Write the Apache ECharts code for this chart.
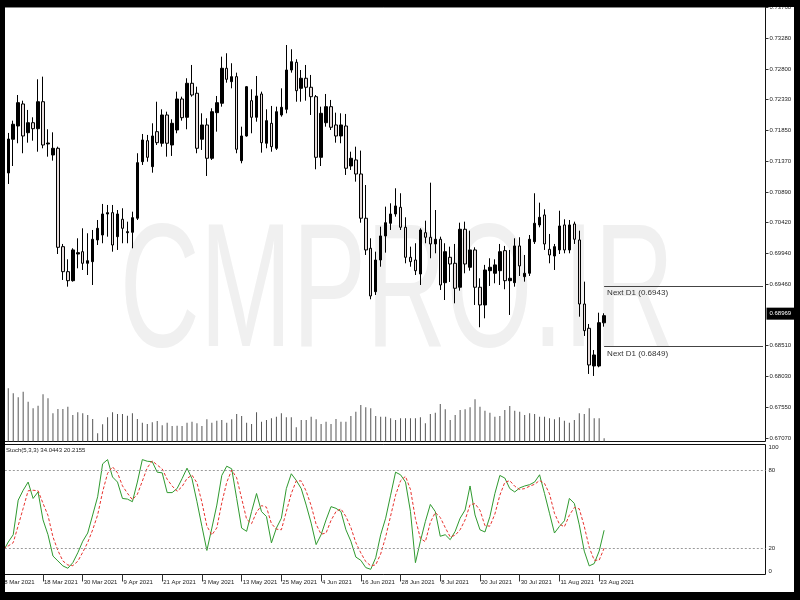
<!DOCTYPE html>
<html><head><meta charset="utf-8">
<script src="https://cdn.jsdelivr.net/npm/echarts@6/dist/echarts.min.js"></script>
<style>html,body{margin:0;padding:0;background:#fff}#c{width:800px;height:600px}</style>
</head><body><div id="c"></div>
<script>
// NZDUSD daily bars, 9 Mar 2021 .. 24 Aug 2021 (8 Mar hidden under frame)
const opens = [0.71184,0.71707,0.71913,0.72255,0.71809,0.71964,0.71871,0.72290,0.71634,0.71463,
0.71567,0.70040,0.69652,0.69512,0.69926,0.69962,0.69782,0.69807,0.70144,0.70221,
0.70547,0.70568,0.70195,0.70465,0.70257,0.70263,0.70481,0.71359,0.71685,0.71282,
0.71825,0.71645,0.72084,0.71618,0.71851,0.72332,0.72048,0.72576,0.72421,0.71707,
0.71929,0.71412,0.72120,0.72266,0.72809,0.72601,0.72679,0.71375,0.71758,0.72306,
0.72048,0.72410,0.71645,0.71955,0.71567,0.72084,0.72172,0.72782,0.72902,0.72498,
0.72654,0.72514,0.72368,0.71427,0.71964,0.72213,0.71929,0.71758,0.71913,0.71292,
0.71386,0.71168,0.70481,0.70015,0.69341,0.69833,0.70206,0.70403,0.70547,0.70651,
0.70341,0.69875,0.69833,0.69616,0.70257,0.70186,0.70082,0.70155,0.69481,0.69875,
0.69782,0.69410,0.70310,0.69720,0.69989,0.69410,0.69135,0.69667,0.69627,0.69667,
0.69978,0.69512,0.69481,0.70051,0.69574,0.69627,0.70117,0.70377,0.70532,0.69999,
0.69895,0.69989,0.70377,0.69989,0.70392,0.70144,0.69150,0.68773,0.68188,0.68188,
0.68858];
const closes = [0.71711,0.71940,0.72275,0.71758,0.71964,0.71871,0.72290,0.71618,0.71649,0.71567,
0.70030,0.69652,0.69512,0.69989,0.69947,0.69782,0.69822,0.70155,0.70325,0.70547,
0.70568,0.70066,0.70547,0.70325,0.70273,0.70490,0.71344,0.71696,0.71427,0.71758,
0.71654,0.72084,0.71645,0.71955,0.72332,0.72042,0.72576,0.72394,0.71567,0.71929,
0.71412,0.72135,0.72275,0.72809,0.72638,0.72679,0.71552,0.71758,0.72523,0.72048,
0.72379,0.71654,0.71996,0.71592,0.72135,0.72203,0.72782,0.72911,0.72461,0.72654,
0.72514,0.72368,0.71427,0.72110,0.72213,0.71893,0.71758,0.71929,0.71257,0.71412,
0.71168,0.70481,0.69989,0.69275,0.69833,0.70206,0.70412,0.70547,0.70672,0.70341,
0.69875,0.69807,0.69667,0.70299,0.70186,0.70082,0.70155,0.69445,0.69962,0.69771,
0.69394,0.70310,0.69771,0.69989,0.69410,0.69135,0.69678,0.69720,0.69757,0.69962,
0.69512,0.69549,0.70051,0.69741,0.69627,0.70155,0.70403,0.70496,0.70082,0.69911,
0.70040,0.70361,0.69989,0.70377,0.70155,0.69150,0.68736,0.68204,0.68359,0.68860,
0.68969];
const highs = [0.71805,0.71996,0.72394,0.72306,0.72162,0.72048,0.72638,0.72679,0.71862,0.71815,
0.71592,0.70082,0.69844,0.70015,0.70170,0.70325,0.70248,0.70299,0.70454,0.70703,
0.70687,0.70687,0.70609,0.70636,0.70428,0.70583,0.71490,0.71789,0.71774,0.71955,
0.72290,0.72172,0.72135,0.72017,0.72446,0.72368,0.72654,0.72860,0.72523,0.72110,
0.72033,0.72188,0.72379,0.72989,0.73042,0.72887,0.72741,0.71902,0.72534,0.72483,
0.72689,0.72446,0.72172,0.72224,0.72213,0.72498,0.73170,0.73104,0.72949,0.72782,
0.72860,0.72705,0.72394,0.72213,0.72410,0.72317,0.72120,0.72110,0.72100,0.71514,
0.71592,0.71531,0.70997,0.70170,0.69962,0.70350,0.70661,0.70713,0.70946,0.70869,
0.70496,0.70040,0.70093,0.70325,0.70443,0.71033,0.70609,0.70195,0.70093,0.70040,
0.70082,0.70412,0.70428,0.70288,0.70030,0.69549,0.69757,0.69860,0.69844,0.70082,
0.70051,0.69989,0.70170,0.70186,0.69911,0.70221,0.70869,0.70723,0.70620,0.70237,
0.70082,0.70598,0.70465,0.70454,0.70428,0.70288,0.69497,0.68840,0.68436,0.69015,
0.69006];
const lows = [0.71013,0.71292,0.71645,0.71490,0.71654,0.71685,0.71514,0.71567,0.71437,0.71375,
0.69926,0.69523,0.69419,0.69497,0.69704,0.69678,0.69600,0.69445,0.70066,0.70093,
0.70195,0.69962,0.69989,0.70093,0.70093,0.70015,0.70454,0.71308,0.71359,0.71188,
0.71618,0.71592,0.71437,0.71448,0.71800,0.71996,0.71862,0.72368,0.71490,0.71541,
0.71137,0.71386,0.71825,0.72213,0.72585,0.72498,0.71490,0.71334,0.71747,0.71800,
0.71980,0.71499,0.71567,0.71514,0.71541,0.72058,0.72110,0.72741,0.72290,0.72290,
0.72306,0.72084,0.71241,0.71292,0.71902,0.71851,0.71654,0.71645,0.71153,0.71230,
0.71049,0.70412,0.69911,0.69223,0.69290,0.69729,0.69947,0.70299,0.70505,0.70299,
0.69782,0.69729,0.69600,0.69445,0.70093,0.69860,0.69937,0.69368,0.69212,0.69492,
0.69161,0.69357,0.69627,0.69667,0.69135,0.68789,0.68928,0.69430,0.69472,0.69445,
0.69379,0.68980,0.69419,0.69585,0.69497,0.69585,0.70082,0.70341,0.69989,0.69782,
0.69678,0.69926,0.69937,0.69937,0.70082,0.68953,0.68654,0.68064,0.68033,0.68168,
0.68798];
const volumes = [79800,72300,66300,74700,59700,49800,53700,70800,64800,42300,
48750,48750,52200,39750,43800,42300,39750,33750,12300,25800,
36300,43800,41250,41250,38700,42300,33750,28200,26250,28800,
30750,24300,28200,23250,23700,23250,28200,29700,27300,23250,
33300,28200,31200,32250,28200,33300,41250,38250,28200,26250,
43800,29700,32250,34800,37200,42300,36300,36300,21300,32250,
32250,37200,33300,26250,29700,26250,33750,29700,29700,38250,
44700,54750,51300,49800,38250,37200,37200,34800,32250,34800,
34800,34800,34800,36300,27300,41250,43200,56250,48300,32250,
39750,47250,48300,51300,63300,52200,46200,43200,37200,38250,
47250,53250,46200,44700,39750,42300,41250,37200,37200,34800,
33300,36300,31200,28200,32250,42300,41250,49800,34800,34800,
4800];
// Stochastic (5,3,3), from 8 Mar 2021
const stochK = [18,25,30.6,57.2,64.8,71.1,58.5,63.5,42,30.6,
14.2,10.4,6.6,4.8,9.1,16.7,25.6,31.9,45.8,59.8,
85.1,88.4,75,71.1,58.5,58,56,71.1,88.4,87.1,
86.8,78.7,78.2,63,63,66.1,73.7,81.8,73.7,56,
37,18.5,35.7,53.4,76.2,83.3,81.3,58.5,35.7,33.2,
48.4,62.3,48.4,44.6,24.3,35.7,43.3,66.1,77.5,72.4,
66.1,53.4,39.5,23,30.6,42,52.2,50.9,48.4,34.4,
25.6,13.4,10.9,5.3,4,12.9,30.6,43.3,61,78.7,
76.7,71.1,48.4,9.1,25.6,40.8,53.9,48.4,29.4,30.6,
26.8,33.2,43.3,49.6,68.1,45.8,34.4,32.7,44.6,62.3,
76.2,74.2,66.1,63.5,66.6,68.1,69.1,71.1,76.7,62.3,
47.1,31.9,37,41.3,58.5,54.7,38.2,18,6.6,8.4,
18,34.0443];
const stochD = [20,22,24.5,37.6,50.9,64.4,64.8,64.4,54.7,45.4,
28.9,18.4,10.4,7.3,6.8,10.2,17.1,24.7,34.4,45.8,
63.6,77.8,82.8,78.2,68.2,62.5,57.5,61.7,71.8,82.2,
87.4,84.2,81.2,73.3,68.1,64,67.6,73.9,76.4,70.5,
55.6,37.2,30.4,35.9,55.1,71,80.3,74.4,58.5,42.5,
39.1,48,53,51.8,39.1,34.9,34.4,48.4,62.3,72,
72,64,53,38.6,31,31.9,41.6,48.4,50.5,44.6,
36.1,24.5,16.6,9.9,6.7,7.4,15.8,28.9,45,61,
72.1,75.5,65.4,42.9,27.7,25.2,40.1,47.7,43.9,36.1,
28.9,30.2,34.4,42,53.7,54.5,49.4,37.6,37.2,46.5,
61,70.9,72.2,67.9,65.4,66.1,67.9,69.4,72.3,70,
62,47.1,38.7,36.7,45.6,51.5,50.5,37,20.9,11,
11,20.2155];
const priceTicks = [0.67070,0.67550,0.68030,0.68510,0.69460,0.69940,0.70420,0.70890,0.71370,0.71850,0.72330,0.72800,0.73280,0.73760];
const stochTicks = [0,20,80,100];
const stochLevels = [20,80];
const nextD1 = [0.6943,0.6849];
const currentPrice = 0.68969;
const monthNames = ['Jan','Feb','Mar','Apr','May','Jun','Jul','Aug','Sep','Oct','Nov','Dec'];
const slotCount = 154;

// categories: weekdays from 8 Mar 2021
const cats = [];
for (let t = Date.UTC(2021,2,8); cats.length < slotCount; t += 86400000) {
  const d = new Date(t), wd = d.getUTCDay();
  if (wd === 0 || wd === 6) continue;
  cats.push(d.getUTCDate() + ' ' + monthNames[d.getUTCMonth()] + ' ' + d.getUTCFullYear());
}
const lastBar = stochK.length - 1;
const candleData = ['-'].concat(opens.map((o,i)=>[o, closes[i], lows[i], highs[i]]));
const volData = ['-'].concat(volumes);
const labelFn = (idx) => idx % 8 === 0 && idx < lastBar;
const axisFont = "'Liberation Sans',Arial,sans-serif";

const chart = echarts.init(document.getElementById('c'), null, {renderer:'canvas'});
chart.setOption({
  animation:false,
  backgroundColor:'#ffffff',
  title:{text:'Stoch(5,3,3) ' + stochK[lastBar].toFixed(4) + ' ' + stochD[lastBar].toFixed(4),
    left:6, top:447, padding:0,
    textStyle:{fontSize:6, fontWeight:'normal', color:'#222', fontFamily:axisFont}},
  grid:[
    {left:0.82, right:34.5, top:7, bottom:158.5, show:true, borderColor:'#111', borderWidth:1},
    {left:0.82, right:34.5, top:444.5, bottom:25.5, show:true, borderColor:'#111', borderWidth:1}
  ],
  xAxis:[
    {type:'category', gridIndex:0, data:cats, boundaryGap:true, show:false},
    {type:'category', gridIndex:1, data:cats, boundaryGap:true,
      axisLine:{show:false},
      axisTick:{show:true, alignWithLabel:true, interval:labelFn, length:7, lineStyle:{color:'#333'}},
      axisLabel:{interval:labelFn, align:'left', margin:5, padding:[0,0,0,1], fontSize:6, color:'#222', fontFamily:axisFont},
      splitLine:{show:false}}
  ],
  yAxis:[
    {type:'value', gridIndex:0, position:'right', min:0.670157, max:0.7376, scale:true,
      axisLine:{show:false}, splitLine:{show:false},
      axisTick:{show:true, customValues:priceTicks, length:3, lineStyle:{color:'#333'}},
      axisLabel:{customValues:priceTicks, formatter:(v)=>v.toFixed(5), fontSize:6, color:'#222', margin:4, fontFamily:axisFont}},
    {type:'value', gridIndex:0, min:0, max:651750, show:false},
    {type:'value', gridIndex:1, position:'right', min:0, max:100,
      axisLine:{show:false}, splitLine:{show:false},
      axisTick:{show:false, customValues:stochTicks},
      axisLabel:{customValues:stochTicks, fontSize:6, color:'#222', margin:3, fontFamily:axisFont,
        verticalAlignMinLabel:'bottom', verticalAlignMaxLabel:'top'}}
  ],
  graphic:[
    {type:'text', x:397, y:297, scaleX:0.63, z:0, silent:true,
      style:{text:'CMPRO.IR', fill:'#f0f0f0', fontSize:176, fontFamily:'Liberation Sans, Arial', textAlign:'center', textVerticalAlign:'middle'}},
    {type:'rect', z:100, silent:true, shape:{x:0,y:0,width:800,height:7}, style:{fill:'#000'}},
    {type:'rect', z:100, silent:true, shape:{x:0,y:592,width:800,height:8}, style:{fill:'#000'}},
    {type:'rect', z:100, silent:true, shape:{x:0,y:0,width:5,height:600}, style:{fill:'#000'}},
    {type:'rect', z:100, silent:true, shape:{x:794,y:0,width:6,height:600}, style:{fill:'#000'}}
  ],
  series:[
    {type:'bar', name:'Volume', xAxisIndex:0, yAxisIndex:1, data:volData, barWidth:1,
      itemStyle:{color:'#555'}, silent:true},
    {type:'candlestick', name:'NZDUSD', xAxisIndex:0, yAxisIndex:0, data:candleData, barWidth:3,
      itemStyle:{color:'#000', color0:'#e6dcdc', borderColor:'#000', borderColor0:'#000', borderWidth:1},
      markLine:{silent:true, symbol:'none',
        data:[
          {yAxis:currentPrice, lineStyle:{color:'rgba(0,0,0,0)', width:1},
            label:{show:true, position:'end', distance:1, formatter:currentPrice.toFixed(5), color:'#fff',
              backgroundColor:'#000', padding:[3,6,3,3], fontSize:6, fontFamily:axisFont}}
        ].concat(nextD1.map(v => [
          {coord:[lastBar, v], lineStyle:{color:'#444', width:1, type:'solid'},
            label:{show:true, position:'insideStartBottom', distance:3, formatter:'Next D1 (' + v.toFixed(4) + ')',
              color:'#333', fontSize:8, fontFamily:'Liberation Sans, Arial'}},
          {coord:[slotCount-1, v]}
        ]))}},
    {type:'line', name:'Main', xAxisIndex:1, yAxisIndex:2, data:stochK, symbol:'none',
      lineStyle:{color:'#2f9a2f', width:1},
      markLine:{silent:true, symbol:'none', label:{show:false},
        lineStyle:{color:'#9a9a9a', width:1, type:[2,2]},
        data:stochLevels.map(v=>({yAxis:v}))}},
    {type:'line', name:'Signal', xAxisIndex:1, yAxisIndex:2, data:stochD, symbol:'none',
      lineStyle:{color:'#e8322e', width:1, type:[3,2]}}
  ]
});
</script></body></html>
